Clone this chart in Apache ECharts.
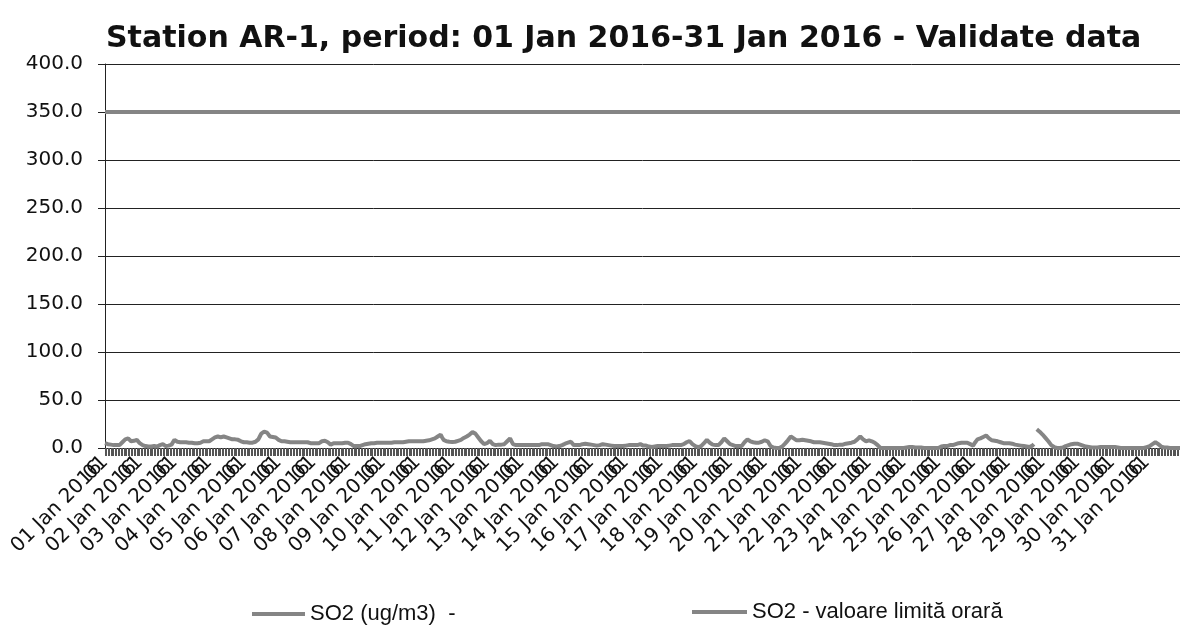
<!DOCTYPE html>
<html>
<head>
<meta charset="utf-8">
<script src="https://cdn.jsdelivr.net/npm/echarts@6/dist/echarts.min.js"></script>
<style>
html,body{margin:0;padding:0;background:#fff;}
#c{width:1180px;height:629px;}
</style>
</head>
<body>
<div id="c"></div>
<script>
const titleText = 'Station AR-1, period: 01 Jan 2016-31 Jan 2016 - Validate data';
const days = ['01','02','03','04','05','06','07','08','09','10','11','12','13','14','15','16',
  '17','18','19','20','21','22','23','24','25','26','27','28','29','30','31'];
const hours = ['01','02','03','04','05','06','07','08','09','10','11','12',
  '13','14','15','16','17','18','19','20','21','22','23','24'];
const seriesNames = ['SO2 (ug/m3)  -', 'SO2 - valoare limită orară'];
const limitValue = 350;
const yTicks = [0, 50, 100, 150, 200, 250, 300, 350, 400];

// hourly SO2 values, one line per day (24 values)
const so2Values = [
  5,4.5,4,4,3.5,3,3,2.5,3,3,3,4.5,6,8,9,10,10,8.5,7,6,7.5,9,8.5,7,
  5,4,3,2.5,2,2,1.5,1.5,1.5,1.5,2,1.5,1.5,1.5,3,5,4,3,2,2,2.5,3,3.5,4,
  8.5,7.5,6.5,6,6,6,6,6,6,6,5.5,5.5,5.5,5,5,5,5,5.5,5.5,6,7,7,7,7,
  7,7.5,9,10.5,11,12,12,11.5,11,12,12,11.5,11,10.5,10,9,9,9,9,8.5,8.5,8,7,6.5,
  6,6,6,6,5.5,5.5,5.5,6,6.5,7,9,12,15,16,17,16.5,16,14,12,11.5,11.5,11.5,11,10,
  8.5,7,7,7,7,6.5,6.5,6,6,6,6,6,6,6,6,6,6,6,6,6,6,5.5,5,5,
  5,5,5,5,5,6,7,7,7.5,7,6,4.5,3.5,4,5,5,5,5,5,5,5,5.5,5.5,5,
  5.5,4.5,4,3,2,2,2,2,2,2.5,3,3.5,4,4,4.5,5,5,5,5,5.5,5.5,5.5,5.5,5.5,
  5.5,5.5,5.5,5.5,5.5,5.5,5.5,5.5,6,6,6,6,6,6,6,6.5,6.5,7,7,7,7,7,7,7,
  7,7,7,7,7,7.5,7.5,7.5,8,8.5,9,9.7,10,11,12,13,14,11,8.5,7.5,7,6.5,6.5,6.3,
  6.3,6.3,6.5,7,7.5,8,8.5,9.5,10.5,11,12,13,14,15,16.5,17.7,15,13,11,9,7,5.5,4,3.5,
  5,6.5,7.5,5.5,4,3,3,3.5,3.5,3.5,3.5,4,4,5.5,7,8.5,10,7,4,3.5,3,3,3,3,
  3,3,3,3,3,3,3,3,3,3,3,3,3,3.5,4,4,4,4,4,3.5,3,2.5,2,2,
  1.7,1.7,2,2.5,3,4,4.5,5,5.5,6,6.5,5,3,3,3,3,3,3,4,5,4.5,4,4,3.5,
  3.5,3.5,3,2.5,2.5,3,3,3.5,4,4,3.5,3,3,3,2.5,2.5,2,2,2,2,2,2,2,2.5,
  2.5,3,3,3,3,3,3,3,3,3,4,3,2.5,2.5,2.5,2.5,1.5,1,1,1.5,1.5,1.5,2,2,
  2,2,2,2,2,2,2.5,2.5,3,3,3,3,3,3,3,3.5,4,5,6,7,7.3,6,4,3,
  2,1.5,1,1,2,3.5,5,7,8.5,7,5.5,4,3.5,3,3,3,3,4.5,6,7,10,8.5,7,5.5,
  4,4,3,2.5,2,2,2,2,2,3,6,7.5,9,8,7,6.5,6,6,5.5,5.5,5.5,6,6.5,7,
  8,9,7,5,2,1,0.5,0,0,0,0,0,1.5,3,4.5,5.5,8,10,12,11,10,8.5,8,8,
  8,8,8.5,8.5,8,7.5,7.5,7,7,6.5,6,6,6,6,6,6,5.5,5.5,5,5,4.5,4.5,4,3.5,
  3,3,3,3,3.5,3.5,3.5,4,4.5,4.5,5,5,5.5,6,6.5,7.5,9,10.5,12,10.5,9,7,7,7.5,
  8,8,7,6.5,5.5,4,3,1.5,0,0,0,0,0,0,0,0,0,0,0,0,0,0,0,0,
  0,0,0.5,1,1,1.5,1,0.5,0.5,1,0.5,0.5,0.5,0.5,0,0,0,0,0,0,0,0,0,0,
  0,0.5,1.5,2,2,2,2,2.5,3,3.5,3,4,4,4.5,5,5,5.5,5.5,5.5,5.5,5.5,5,4,3,
  2.5,5,7,9,9.5,10,10,11.5,12,13,11.5,10,8.5,8,8,7.5,7.5,7,6.5,6,5.5,5,5,5,
  5,5,4.5,4.5,4,3.5,3,3,2.5,2.5,2,2,1.5,1.5,1,1,1.5,2.5,4,null,19.5,18,17,15.5,
  14,12,10.5,9,7,5,3,2,1,0,0,0,0,0.5,0.5,1,2,2.5,3,3.5,4,4,4.5,5,
  4.5,4,3.5,3,2.5,2,1.5,1,1,0.5,0.5,0.5,0.5,0.5,0.5,1,1,1,1,1,1,1,1,1,
  1,1,1,0.5,0.5,0,0,0,0,0,0,0,0,0,0,0,0,0,0,0,0,0,0,0.5,
  1,1.5,2,3,4,5,6,5,4,2.5,1.5,1,0.5,0.5,0.5,0,0,0,0,0,0,0,0,0
];

const categories = [];
days.forEach(d => hours.forEach(h => categories.push(d + ' Jan 2016 ' + h)));
const limitSeries = categories.map(() => limitValue);

const chart = echarts.init(document.getElementById('c'), null, {renderer: 'canvas'});
const lineColor = '#858585';
const legendText = {fontFamily: 'Liberation Sans', fontSize: 22, color: '#111'};
chart.setOption({
  animation: false,
  backgroundColor: '#ffffff',
  title: {
    text: titleText,
    left: 101, top: 19,
    textStyle: {fontFamily: 'DejaVu Sans', fontWeight: 'bold', fontSize: 30, color: '#111'}
  },
  legend: [
    {
      data: [seriesNames[0]], left: 247, top: 598,
      icon: 'rect', itemWidth: 53, itemHeight: 4, itemGap: 4,
      textStyle: legendText
    },
    {
      data: [seriesNames[1]], left: 687, top: 596,
      icon: 'rect', itemWidth: 55, itemHeight: 4, itemGap: 4,
      textStyle: legendText
    }
  ],
  grid: {left: 105, right: 0, top: 64, bottom: 181, containLabel: false, outerBoundsMode: 'none'},
  xAxis: {
    type: 'category',
    data: categories,
    boundaryGap: false,
    axisLine: {lineStyle: {color: '#222', width: 1}},
    axisTick: {show: true, interval: 0, length: 8, lineStyle: {color: '#555', width: 1}},
    axisLabel: {
      interval: (idx) => idx % 24 === 0,
      rotate: 45, margin: 11,
      hideOverlap: false,
      fontFamily: 'DejaVu Sans', fontSize: 20, lineHeight: 20, color: '#111',
      formatter: v => {
        const p = v.split(' ');
        return '{d|' + p[0] + ' ' + p[1] + ' ' + p[2] + '}{h|' + p[3] + '}';
      },
      rich: {
        d: {fontFamily: 'DejaVu Sans', fontSize: 20, lineHeight: 20, color: '#111'},
        h: {fontFamily: 'DejaVu Sans', fontSize: 20, lineHeight: 20, color: '#111',
            width: 8, align: 'right'}
      }
    },
    splitLine: {show: false}
  },
  yAxis: {
    type: 'value',
    min: yTicks[0], max: yTicks[yTicks.length - 1], interval: 50,
    axisLine: {show: true, lineStyle: {color: '#222', width: 1}},
    axisTick: {show: true, length: 7, lineStyle: {color: '#222'}},
    axisLabel: {
      margin: 22, fontFamily: 'DejaVu Sans', fontSize: 20, color: '#111',
      formatter: v => v.toFixed(1)
    },
    splitLine: {show: true, lineStyle: {color: '#222', width: 1}}
  },
  series: [
    {
      name: seriesNames[0], type: 'line', data: so2Values,
      showSymbol: false, connectNulls: false,
      lineStyle: {color: lineColor, width: 4},
      itemStyle: {color: lineColor}
    },
    {
      name: seriesNames[1], type: 'line', data: limitSeries,
      showSymbol: false,
      lineStyle: {color: lineColor, width: 4},
      itemStyle: {color: lineColor}
    }
  ]
});
</script>
</body>
</html>
